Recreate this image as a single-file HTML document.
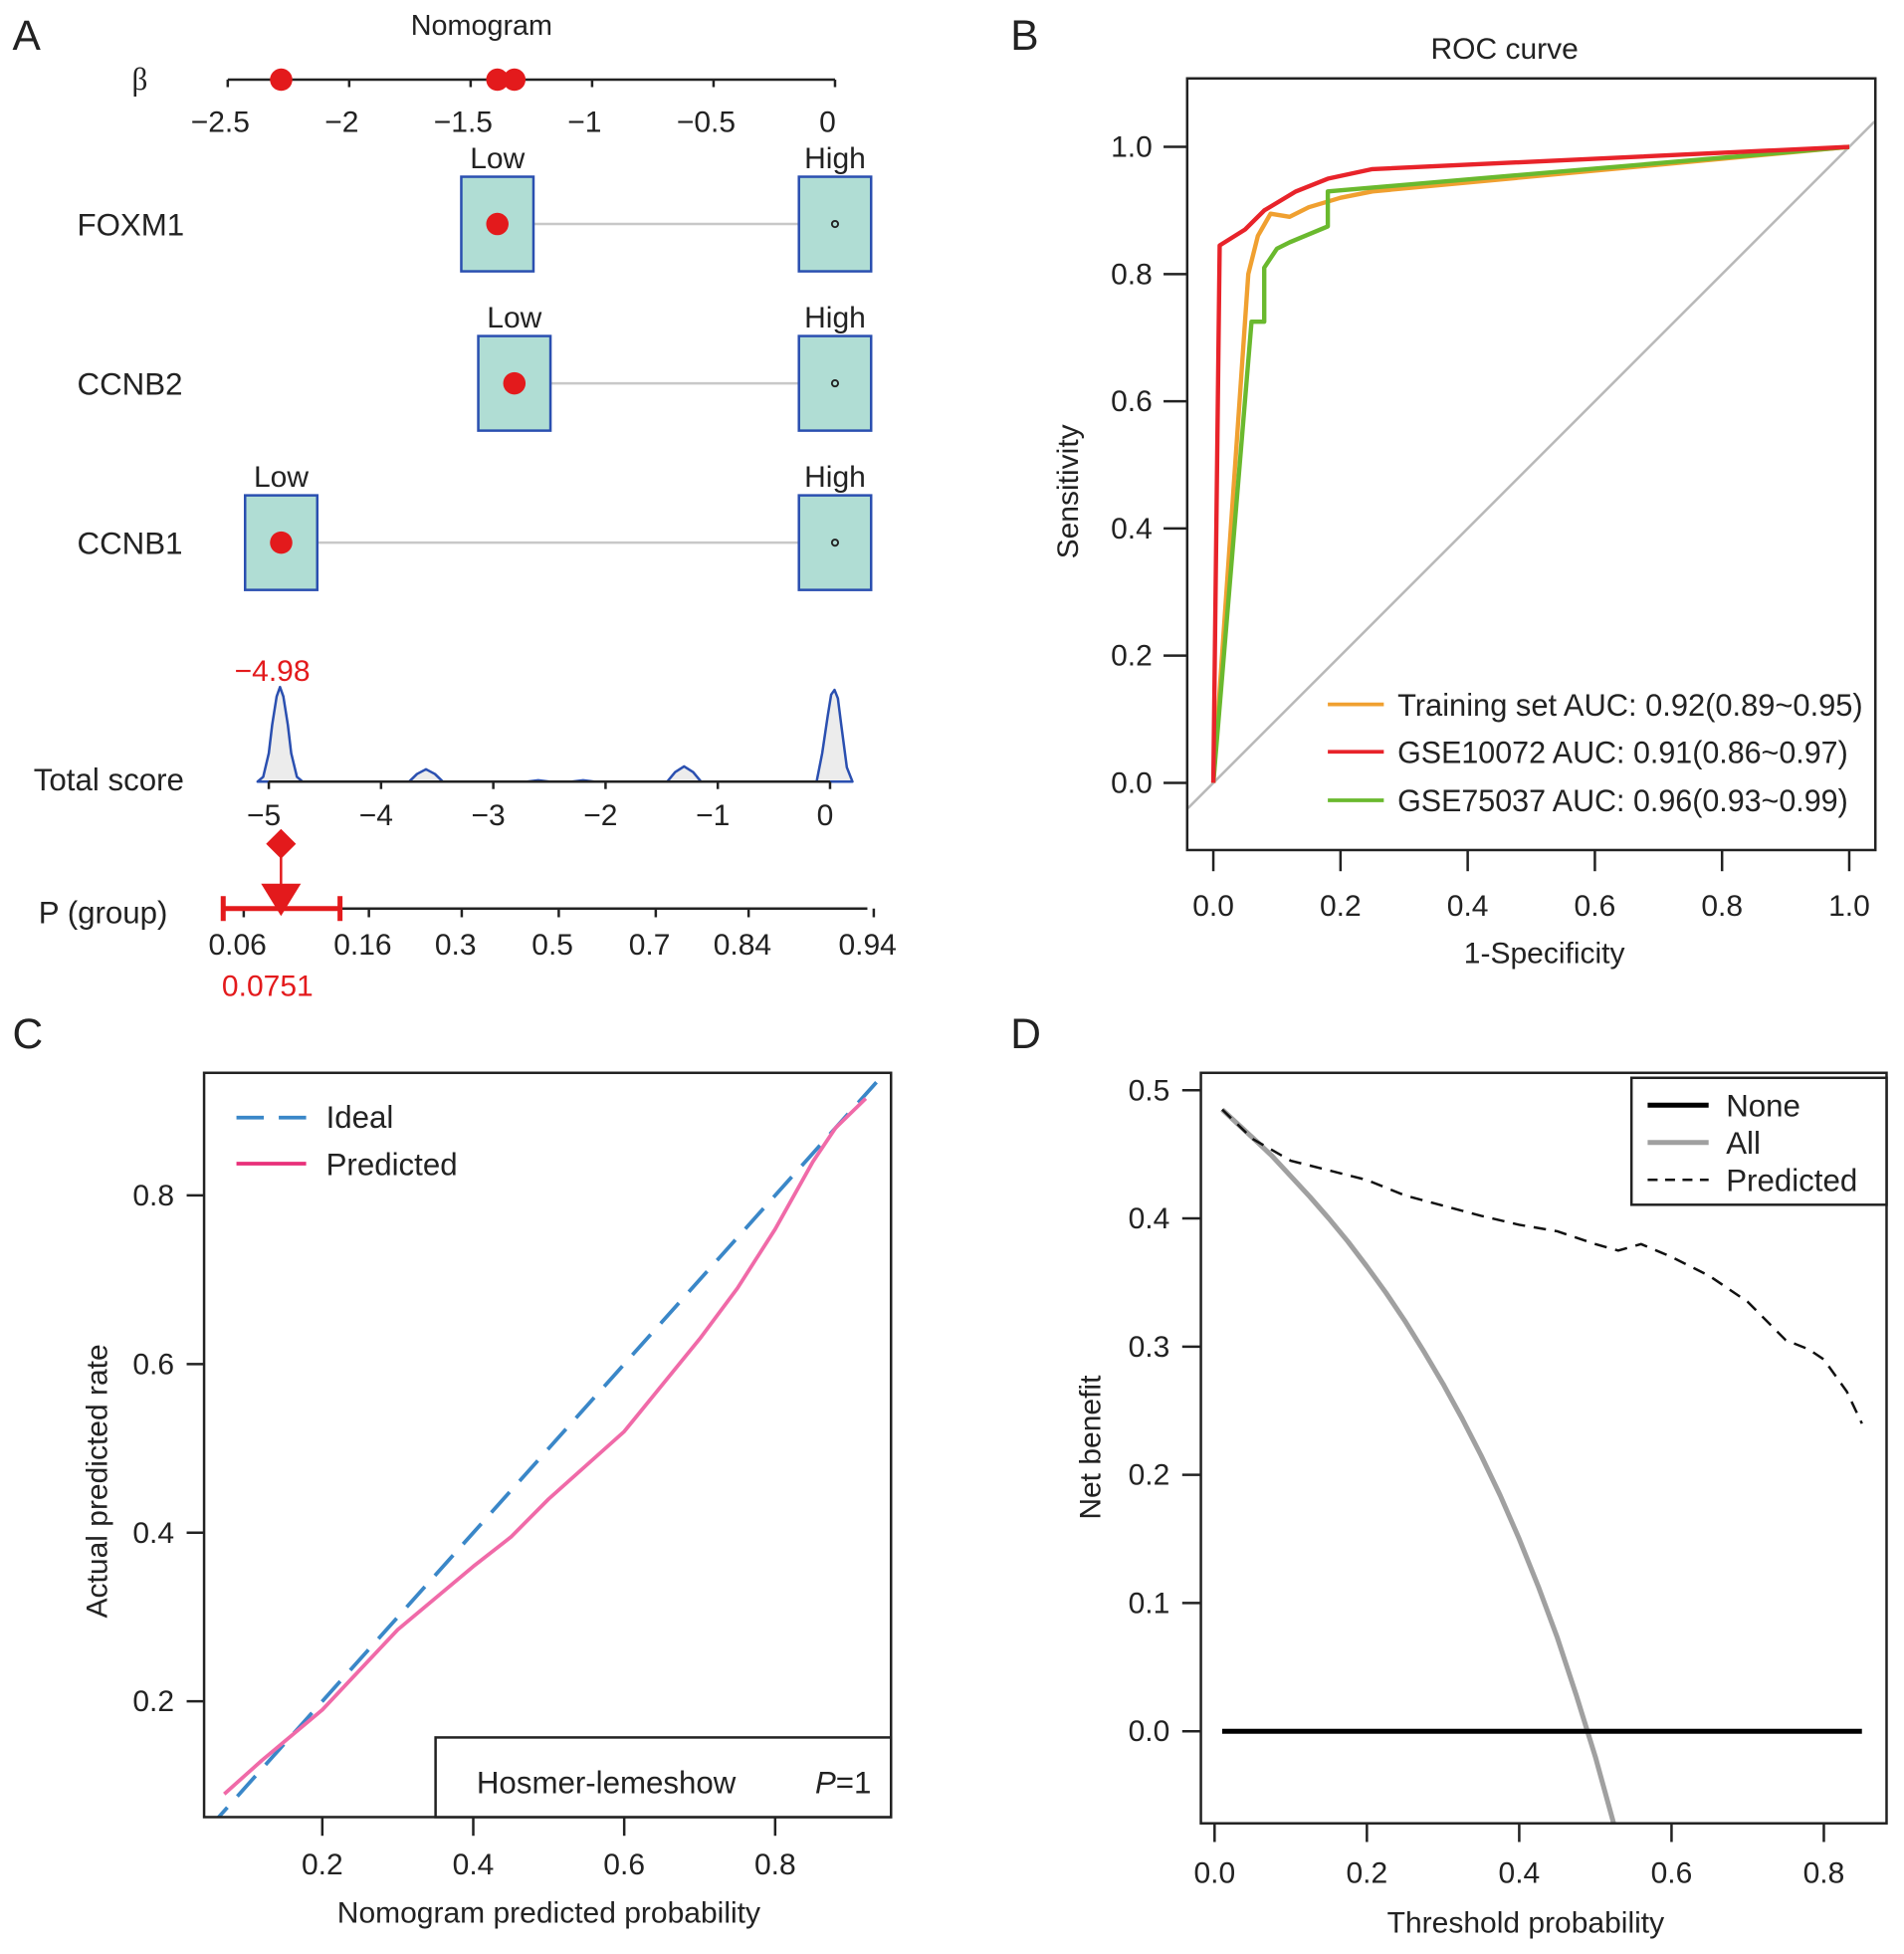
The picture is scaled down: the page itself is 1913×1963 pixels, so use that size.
<!DOCTYPE html>
<html><head><meta charset="utf-8"><style>
html,body{margin:0;padding:0;background:#fff;}
svg{display:block;font-family:"Liberation Sans",Arial,sans-serif;}
</style></head><body>
<svg id="fig" width="1913" height="1963" viewBox="0 0 1530 1570" xmlns="http://www.w3.org/2000/svg">
<rect width="1530" height="1570" fill="#fff"/>
<g id="A"></g>
<g id="B"></g>
<g id="C"></g>
<g id="D"></g>
</svg>
<script>
// ---------- DATA ----------
// Panel A
const betaTicks = [-2.5,-2,-1.5,-1,-0.5,0];
const betaTickLabels = ["\u22122.5","\u22122","\u22121.5","\u22121","\u22120.5","0"];
const geneNames = ["FOXM1","CCNB2","CCNB1"];
const geneLowBeta = [-1.39,-1.32,-2.28];
const geneHighBeta = [0,0,0];
const scoreTicks = [-5,-4,-3,-2,-1,0];
const scoreTickLabels = ["\u22125","\u22124","\u22123","\u22122","\u22121","0"];
const densityX = [-5.1,-5.05,-5.0,-4.97,-4.93,-4.9,-4.87,-4.83,-4.8,-4.75,-4.7,-3.75,-3.68,-3.6,-3.52,-3.45,-2.7,-2.6,-2.5,-2.3,-2.2,-2.1,-1.45,-1.38,-1.3,-1.22,-1.15,-0.12,-0.07,-0.02,0.01,0.04,0.07,0.1,0.15,0.2];
const densityY = [0,0.05,0.3,0.6,0.9,1.0,0.9,0.6,0.3,0.05,0,0,0.08,0.13,0.08,0,0,0.015,0,0,0.015,0,0,0.1,0.16,0.1,0,0,0.3,0.7,0.92,0.97,0.88,0.6,0.15,0];
const pTicks = [0.06,0.16,0.3,0.5,0.7,0.84,0.94];
const pTickLabels = ["0.06","0.16","0.3","0.5","0.7","0.84","0.94"];
const patientScore = -4.98;
const patientP = 0.0751;
const pCI = [0.055,0.139];
// Panel B
const rocTicks = [0,0.2,0.4,0.6,0.8,1.0];
const rocTickLabels = ["0.0","0.2","0.4","0.6","0.8","1.0"];
const rocNames = ["Training set AUC: 0.92(0.89~0.95)","GSE10072 AUC: 0.91(0.86~0.97)","GSE75037 AUC: 0.96(0.93~0.99)"];
const rocColors = ["#f0a030","#e8232a","#6ab92e"];
const trainFpr = [0,0.055,0.07,0.09,0.12,0.15,0.2,0.25,1];
const trainTpr = [0,0.80,0.86,0.895,0.89,0.905,0.92,0.93,1];
const gse10072Fpr = [0,0.01,0.05,0.08,0.13,0.18,0.25,1];
const gse10072Tpr = [0,0.845,0.87,0.90,0.93,0.95,0.965,1];
const gse75037Fpr = [0,0.06,0.08,0.08,0.1,0.12,0.18,0.18,1];
const gse75037Tpr = [0,0.725,0.725,0.81,0.84,0.85,0.875,0.93,1];
// Panel C
const calXTicks = [0.2,0.4,0.6,0.8];
const calXTickLabels = ["0.2","0.4","0.6","0.8"];
const calYTicks = [0.2,0.4,0.6,0.8];
const calYTickLabels = ["0.2","0.4","0.6","0.8"];
const calPredX = [0.07,0.12,0.2,0.3,0.4,0.45,0.5,0.6,0.7,0.75,0.8,0.85,0.88,0.92];
const calPredY = [0.09,0.13,0.19,0.285,0.36,0.395,0.44,0.52,0.63,0.69,0.76,0.84,0.88,0.915];
// Panel D
const dcaXTicks = [0,0.2,0.4,0.6,0.8];
const dcaXTickLabels = ["0.0","0.2","0.4","0.6","0.8"];
const dcaYTicks = [0,0.1,0.2,0.3,0.4,0.5];
const dcaYTickLabels = ["0.0","0.1","0.2","0.3","0.4","0.5"];
const allT = [0.01,0.05,0.075,0.1,0.125,0.15,0.175,0.2,0.225,0.25,0.275,0.3,0.325,0.35,0.375,0.4,0.425,0.45,0.475,0.5,0.53];
const allNB = [0.485,0.463,0.449,0.433,0.417,0.40,0.382,0.3625,0.342,0.32,0.296,0.271,0.244,0.215,0.184,0.15,0.113,0.073,0.028,-0.02,-0.085];
const predT = [0.01,0.05,0.1,0.2,0.25,0.3,0.35,0.4,0.45,0.5,0.53,0.56,0.6,0.65,0.7,0.75,0.78,0.8,0.83,0.85];
const predNB = [0.485,0.462,0.445,0.43,0.418,0.41,0.402,0.395,0.39,0.38,0.375,0.38,0.37,0.355,0.335,0.305,0.298,0.29,0.265,0.24];
const noneT = [0.01,0.85];
const noneNB = [0,0];

// ---------- HELPERS ----------
const NS="http://www.w3.org/2000/svg";
function mk(parent,tag,attrs,text){const e=document.createElementNS(NS,tag);for(const k in attrs)e.setAttribute(k,attrs[k]);if(text!==undefined)e.textContent=text;parent.appendChild(e);return e;}
function pathFrom(xs,ys,fx,fy){return xs.map((x,i)=>(i?"L":"M")+fx(x).toFixed(1)+","+fy(ys[i]).toFixed(1)).join(" ");}
const K="#222";
const TS=24;

// ---------- PANEL A ----------
(function(){
const g=document.getElementById('A');
let t=mk(g,'text',{x:10,y:40,'font-size':34,fill:K},'A');


t=mk(g,'text',{x:387,y:28,'font-size':23,'text-anchor':'middle',fill:K},'Nomogram');


const bx=v=>671+v*195.2;
t=mk(g,'text',{x:106,y:72,'font-size':25,fill:K,'font-family':'"Liberation Serif",serif'},'\u03b2');


let l=mk(g,'line',{x1:bx(-2.5),x2:bx(0),y1:64,y2:64,stroke:K,'stroke-width':2});


betaTicks.forEach((v,i)=>{
  mk(g,'line',{x1:bx(v),x2:bx(v),y1:64,y2:70,stroke:K,'stroke-width':2});
  const tt=mk(g,'text',{x:bx(v)-6,y:106,'font-size':TS,'text-anchor':'middle',fill:K},betaTickLabels[i]);
  
  
});
geneLowBeta.forEach(v=>{
  const c=mk(g,'circle',{cx:bx(v),cy:64,r:9,fill:'#e31a1c'});
  
  
});
const rowY=[180,308,436];
geneNames.forEach((n,i)=>{
  const y=rowY[i], xl=bx(geneLowBeta[i]), xh=bx(geneHighBeta[i]);
  const tt=mk(g,'text',{x:62,y:y+9,'font-size':25,fill:K},n);
  
  
  mk(g,'line',{x1:xl+29,x2:xh-29,y1:y,y2:y,stroke:'#c8c8c8','stroke-width':2});
  [[xl,'Low'],[xh,'High']].forEach(([x,lab])=>{
    const r=mk(g,'rect',{x:x-29,y:y-38,width:58,height:76,fill:'#b0ddd4',stroke:'#2a4fb0','stroke-width':2});
    
    
    const lt=mk(g,'text',{x:x,y:y-45,'font-size':TS,'text-anchor':'middle',fill:K},lab);
    
    
  });
  const c=mk(g,'circle',{cx:xl,cy:y,r:9,fill:'#e31a1c'});
  
  
  mk(g,'circle',{cx:xh,cy:y,r:2.5,fill:'none',stroke:K,'stroke-width':1.5});
});
// total score
const sx=v=>667+v*90.2, base=628;
t=mk(g,'text',{x:27,y:635,'font-size':25,fill:K},'Total score');


const dp=pathFrom(densityX,densityY,sx,v=>base-v*76);
let p=mk(g,'path',{d:dp+" Z",fill:'#ececec',stroke:'#2a4fb0','stroke-width':2,'stroke-linejoin':'round'});


mk(g,'line',{x1:sx(-5),x2:sx(0),y1:base,y2:base,stroke:K,'stroke-width':2});
scoreTicks.forEach((v,i)=>{
  mk(g,'line',{x1:sx(v),x2:sx(v),y1:base,y2:base+6,stroke:K,'stroke-width':2});
  const tt=mk(g,'text',{x:sx(v)-4,y:663,'font-size':TS,'text-anchor':'middle',fill:K},scoreTickLabels[i]);
  
  
});
t=mk(g,'text',{x:sx(patientScore)+1,y:547,'font-size':TS,'text-anchor':'middle',fill:'#e31a1c'},'\u22124.98');


// P(group)
const logit=v=>Math.log(v/(1-v));
const px=v=>441+logit(v)*92, py=730;
t=mk(g,'text',{x:31,y:742,'font-size':25,fill:K},'P (group)');


mk(g,'line',{x1:px(pCI[0]),x2:697,y1:py,y2:py,stroke:K,'stroke-width':2});
pTicks.forEach((v,i)=>{
  mk(g,'line',{x1:px(v)+8,x2:px(v)+8,y1:py,y2:py+7,stroke:K,'stroke-width':2});
  const tt=mk(g,'text',{x:px(v)+3,y:767,'font-size':TS,'text-anchor':'middle',fill:K},pTickLabels[i]);
  
  
});
const mxp=sx(patientScore)+8;
l=mk(g,'line',{x1:px(pCI[0]),x2:px(pCI[1]),y1:py,y2:py,stroke:'#e31a1c','stroke-width':4});


[pCI[0],pCI[1]].forEach(v=>mk(g,'line',{x1:px(v),x2:px(v),y1:py-10,y2:py+10,stroke:'#e31a1c','stroke-width':4}));
mk(g,'line',{x1:mxp,x2:mxp,y1:678,y2:715,stroke:'#e31a1c','stroke-width':2});
p=mk(g,'path',{d:`M${mxp},666 L${mxp+12},678 L${mxp},690 L${mxp-12},678 Z`,fill:'#e31a1c'});


p=mk(g,'path',{d:`M${mxp-16},710 L${mxp+16},710 L${mxp},736 Z`,fill:'#e31a1c'});


t=mk(g,'text',{x:215,y:800,'font-size':TS,'text-anchor':'middle',fill:'#e31a1c'},String(patientP));


})();

// ---------- PANEL B ----------
(function(){
const g=document.getElementById('B');
let t=mk(g,'text',{x:812,y:40,'font-size':34,fill:K},'B');


t=mk(g,'text',{x:1209,y:47,'font-size':TS,'text-anchor':'middle',fill:K},'ROC curve');


const X=v=>975+v*511, Y=v=>629-v*511;
const cp=mk(document.querySelector('#fig'),'clipPath',{id:'cb'});
mk(cp,'rect',{x:954,y:63,width:553,height:620});
let l=mk(g,'line',{x1:X(-0.04),y1:Y(-0.04),x2:X(1.04),y2:Y(1.04),stroke:'#b8b8b8','stroke-width':2,'clip-path':'url(#cb)'});


const series=[[trainFpr,trainTpr],[gse10072Fpr,gse10072Tpr],[gse75037Fpr,gse75037Tpr]];
const order=[0,2,1];
order.forEach(i=>{
  const p=mk(g,'path',{d:pathFrom(series[i][0],series[i][1],X,Y),fill:'none',stroke:rocColors[i],'stroke-width':3.5,'stroke-linejoin':'round'});
  
  
});
let r=mk(g,'rect',{x:954,y:63,width:553,height:620,fill:'none',stroke:K,'stroke-width':2});


rocTicks.forEach((v,i)=>{
  mk(g,'line',{x1:X(v),x2:X(v),y1:683,y2:700,stroke:K,'stroke-width':2});
  let tt=mk(g,'text',{x:X(v),y:736,'font-size':TS,'text-anchor':'middle',fill:K},rocTickLabels[i]);
  
  
  mk(g,'line',{x1:935,x2:954,y1:Y(v),y2:Y(v),stroke:K,'stroke-width':2});
  tt=mk(g,'text',{x:926,y:Y(v)+8,'font-size':TS,'text-anchor':'end',fill:K},rocTickLabels[i]);
  
  
});
t=mk(g,'text',{x:1241,y:774,'font-size':TS,'text-anchor':'middle',fill:K},'1-Specificity');


t=mk(g,'text',{x:0,y:0,'font-size':TS,'text-anchor':'middle',fill:K,transform:'translate(866,395) rotate(-90)'},'Sensitivity');


const ly=[566,604,643], lw=[374,362,362];
rocNames.forEach((n,i)=>{
  const le=mk(g,'g',{});
  
  
  mk(le,'line',{x1:1067,x2:1112,y1:ly[i],y2:ly[i],stroke:rocColors[i],'stroke-width':3});
  mk(le,'text',{x:1123,y:ly[i]+9,'font-size':25,fill:K,textLength:lw[i],lengthAdjust:'spacingAndGlyphs'},n);
});
})();

// ---------- PANEL C ----------
(function(){
const g=document.getElementById('C');
let t=mk(g,'text',{x:10,y:842,'font-size':34,fill:K},'C');


const X=v=>137.7+v*606.5, Y=v=>1502.5-v*677.5;
const cp=mk(document.querySelector('#fig'),'clipPath',{id:'cc'});
mk(cp,'rect',{x:164,y:862,width:552,height:598});
let l=mk(g,'line',{x1:X(0.05),y1:Y(0.05),x2:X(0.96),y2:Y(0.96),stroke:'#3a87c8','stroke-width':3,'stroke-dasharray':'22,12','clip-path':'url(#cc)'});


let p=mk(g,'path',{d:pathFrom(calPredX,calPredY,X,Y),fill:'none',stroke:'#f06aa8','stroke-width':3,'stroke-linejoin':'round'});


let r=mk(g,'rect',{x:164,y:862,width:552,height:598,fill:'none',stroke:K,'stroke-width':2});


calXTicks.forEach((v,i)=>{
  mk(g,'line',{x1:X(v),x2:X(v),y1:1460,y2:1475,stroke:K,'stroke-width':2});
  const tt=mk(g,'text',{x:X(v),y:1506,'font-size':TS,'text-anchor':'middle',fill:K},calXTickLabels[i]);
  
  
});
calYTicks.forEach((v,i)=>{
  mk(g,'line',{x1:150,x2:164,y1:Y(v),y2:Y(v),stroke:K,'stroke-width':2});
  const tt=mk(g,'text',{x:140,y:Y(v)+8,'font-size':TS,'text-anchor':'end',fill:K},calYTickLabels[i]);
  
  
});
t=mk(g,'text',{x:441,y:1545,'font-size':TS,'text-anchor':'middle',fill:K},'Nomogram predicted probability');


t=mk(g,'text',{x:0,y:0,'font-size':TS,'text-anchor':'middle',fill:K,transform:'translate(86,1190) rotate(-90)'},'Actual predicted rate');


let le=mk(g,'g',{});


mk(le,'line',{x1:190,x2:248,y1:898,y2:898,stroke:'#3a87c8','stroke-width':3,'stroke-dasharray':'22,12'});
mk(le,'text',{x:262,y:906,'font-size':25,fill:K},'Ideal');
le=mk(g,'g',{});


mk(le,'line',{x1:190,x2:246,y1:935,y2:935,stroke:'#e8307a','stroke-width':3});
mk(le,'text',{x:262,y:944,'font-size':25,fill:K},'Predicted');
r=mk(g,'rect',{x:350,y:1396,width:366,height:64,fill:'#fff',stroke:K,'stroke-width':2});


t=mk(g,'text',{x:383,y:1441,'font-size':25,fill:K},'Hosmer-lemeshow');


t=mk(g,'text',{x:655,y:1441,'font-size':25,fill:K});


mk(t,'tspan',{'font-style':'italic'},'P');
mk(t,'tspan',{},'=1');
})();

// ---------- PANEL D ----------
(function(){
const g=document.getElementById('D');
let t=mk(g,'text',{x:812,y:842,'font-size':34,fill:K},'D');


const X=v=>976+v*612, Y=v=>1391-v*1030;
const cp=mk(document.querySelector('#fig'),'clipPath',{id:'cd'});
mk(cp,'rect',{x:965,y:862,width:551,height:603});
let p=mk(g,'path',{d:pathFrom(allT,allNB,X,Y),fill:'none',stroke:'#a0a0a0','stroke-width':4,'stroke-linejoin':'round','clip-path':'url(#cd)'});


p=mk(g,'path',{d:pathFrom(noneT,noneNB,X,Y),fill:'none',stroke:'#000','stroke-width':4});


p=mk(g,'path',{d:pathFrom(predT,predNB,X,Y),fill:'none',stroke:'#111','stroke-width':2,'stroke-dasharray':'10,7'});


let r=mk(g,'rect',{x:965,y:862,width:551,height:603,fill:'none',stroke:K,'stroke-width':2});


dcaXTicks.forEach((v,i)=>{
  mk(g,'line',{x1:X(v),x2:X(v),y1:1465,y2:1480,stroke:K,'stroke-width':2});
  const tt=mk(g,'text',{x:X(v),y:1513,'font-size':TS,'text-anchor':'middle',fill:K},dcaXTickLabels[i]);
  
  
});
dcaYTicks.forEach((v,i)=>{
  mk(g,'line',{x1:950,x2:965,y1:Y(v),y2:Y(v),stroke:K,'stroke-width':2});
  const tt=mk(g,'text',{x:940,y:Y(v)+8,'font-size':TS,'text-anchor':'end',fill:K},dcaYTickLabels[i]);
  
  
});
t=mk(g,'text',{x:1226,y:1553,'font-size':TS,'text-anchor':'middle',fill:K},'Threshold probability');


t=mk(g,'text',{x:0,y:0,'font-size':TS,'text-anchor':'middle',fill:K,transform:'translate(884,1163) rotate(-90)'},'Net benefit');


r=mk(g,'rect',{x:1311,y:866,width:205,height:102,fill:'#fff',stroke:K,'stroke-width':2});


const items=[['None','#000',4,''],['All','#a0a0a0',4,''],['Predicted','#111',2,'8,6']];
items.forEach((it,i)=>{
  const y=888+i*30;
  const le=mk(g,'g',{});
  
  
  const a={x1:1324,x2:1373,y1:y,y2:y,stroke:it[1],'stroke-width':it[2]};
  if(it[3])a['stroke-dasharray']=it[3];
  mk(le,'line',a);
  mk(le,'text',{x:1387,y:y+9,'font-size':25,fill:K},it[0]);
});
})();
</script>
</body></html>
